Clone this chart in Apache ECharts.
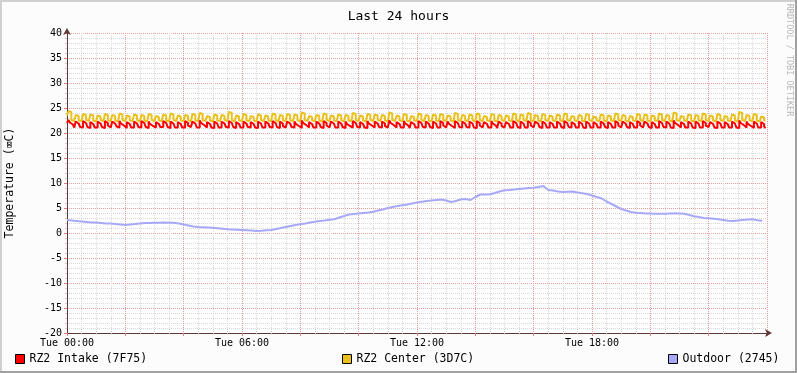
<!DOCTYPE html>
<html><head><meta charset="utf-8">
<script src="https://cdn.jsdelivr.net/npm/echarts@6/dist/echarts.min.js"></script>
<style>html,body{margin:0;padding:0;background:#FCFCFC}#c{width:797px;height:373px}</style>
</head><body><div id="c"></div>
<script>
// time axis in minutes from Tue 00:00
const xTickLabels = ['Tue 00:00','Tue 06:00','Tue 12:00','Tue 18:00'];
const seriesNames = ['RZ2 Intake (7F75)','RZ2 Center (3D7C)','Outdoor (2745)'];
const sampleStepRoom = 3;   // minutes between samples (intake/center)
const sampleStepOut = 10;   // minutes between samples (outdoor)

const intake = [
22.0,22.6,22.1,21.7,21.3, 21.1,22.3,21.9,21.5,21.2,
21.1,22.4,22.0,21.6,21.2, 21.0,22.2,21.8,21.4,21.1,
21.1,22.3,21.9,21.5,21.2, 21.0,22.4,22.0,21.5,21.1,
21.2,22.3,21.9,21.6,21.3, 21.1,22.4,21.9,21.5,21.1,
21.0,22.2,21.8,21.4,21.1, 21.1,22.3,21.9,21.5,21.2,
21.1,22.4,22.0,21.6,21.2, 21.0,22.3,21.8,21.4,21.1,
21.1,22.2,21.8,21.5,21.2, 21.2,22.4,22.0,21.6,21.2,
21.0,22.3,21.9,21.5,21.1, 21.1,22.2,21.8,21.4,21.1,
21.1,22.4,22.0,21.5,21.2, 21.0,22.3,21.9,21.5,21.1,
21.1,22.5,22.0,21.6,21.2, 21.1,22.2,21.8,21.4,21.1,
21.0,22.3,21.9,21.5,21.1, 21.1,22.3,21.9,21.5,21.2,
21.1,22.4,22.0,21.6,21.2, 21.0,22.2,21.8,21.4,21.1,
21.1,22.3,21.9,21.5,21.2, 21.1,22.2,21.8,21.4,21.1,
21.0,22.3,21.9,21.5,21.1, 21.1,22.3,21.9,21.5,21.2,
21.1,22.4,22.0,21.6,21.2, 21.0,22.3,21.9,21.4,21.1,
21.1,22.3,21.9,21.5,21.2, 21.1,22.3,21.8,21.4,21.1,
21.0,22.5,22.0,21.6,21.2, 21.1,22.2,21.8,21.4,21.1,
21.1,22.3,21.9,21.5,21.2, 21.0,22.4,22.0,21.5,21.1,
21.1,22.3,21.9,21.5,21.1, 21.1,22.3,21.9,21.5,21.2,
21.0,22.3,21.8,21.4,21.1, 21.1,22.4,22.0,21.6,21.2,
21.1,22.2,21.8,21.4,21.1, 21.0,22.4,21.9,21.5,21.1,
21.1,22.3,21.9,21.5,21.2, 21.1,22.3,21.9,21.4,21.1,
21.0,22.5,22.0,21.6,21.2, 21.1,22.2,21.8,21.4,21.1,
21.1,22.4,21.9,21.5,21.2, 21.0,22.2,21.8,21.4,21.1,
21.1,22.4,22.0,21.6,21.2, 21.1,22.3,21.9,21.5,21.2,
21.0,22.3,21.9,21.5,21.1, 21.1,22.4,22.0,21.5,21.1,
21.1,22.3,21.8,21.4,21.1, 21.0,22.4,22.0,21.6,21.2,
21.1,22.3,21.9,21.5,21.2, 21.1,22.3,21.9,21.5,21.1,
21.0,22.4,22.0,21.5,21.1, 21.1,22.2,21.8,21.4,21.1,
21.1,22.4,21.9,21.5,21.2, 21.0,22.3,21.9,21.4,21.1,
21.1,22.2,21.8,21.4,21.1, 21.1,22.4,22.0,21.6,21.2,
21.0,22.3,21.9,21.5,21.1, 21.1,22.4,22.0,21.5,21.1,
21.1,22.3,21.9,21.5,21.2, 21.0,22.3,21.9,21.5,21.1,
21.1,22.2,21.8,21.4,21.1, 21.1,22.3,21.9,21.5,21.2,
21.0,22.4,22.0,21.6,21.2, 21.1,22.2,21.8,21.4,21.1,
21.1,22.3,21.9,21.5,21.1, 21.0,22.3,21.9,21.5,21.1,
21.1,22.2,21.8,21.4,21.1, 21.1,22.3,21.9,21.5,21.2,
21.0,22.2,21.8,21.4,21.1, 21.1,22.4,22.0,21.5,21.1,
21.1,22.3,21.9,21.5,21.2, 21.0,22.2,21.8,21.4,21.1,
21.1,22.4,22.0,21.5,21.1, 21.1,22.3,21.9,21.5,21.2,
21.0,22.2,21.8,21.4,21.1, 21.1,22.4,22.0,21.6,21.2,
21.1,22.3,21.9,21.5,21.1, 21.0,22.5,22.0,21.6,21.2,
21.1,22.2,21.8,21.4,21.1, 21.1,22.3,21.9,21.5,21.1,
21.0,22.3,21.9,21.5,21.1, 21.1,22.4,22.0,21.5,21.2,
21.1,22.2,21.8,21.4,21.1, 21.0,22.3,21.9,21.5,21.1,
21.1,22.2,21.8,21.4,21.1, 21.1,22.3,21.9,21.5,21.1,
21.0,22.5,22.0,21.6,21.2, 21.1,22.3,21.8,21.4,21.1,
21.0,22.3,21.9,21.5,21.1, 21.1,22.2,21.8,21.3,21.0
];

const center = [
23.5,24.4,24.2,22.6,22.4, 22.3,23.6,23.4,22.5,22.4,
22.3,23.8,23.6,22.6,22.4, 22.3,23.7,23.5,22.5,22.3,
22.4,23.5,23.3,22.6,22.4, 22.3,23.8,23.6,22.5,22.4,
22.3,23.6,23.4,22.5,22.3, 22.4,23.9,23.7,22.6,22.4,
22.3,23.5,23.3,22.5,22.4, 22.3,23.7,23.5,22.6,22.3,
22.4,23.6,23.4,22.5,22.3, 22.3,23.8,23.6,22.6,22.4,
22.3,23.4,23.2,22.5,22.4, 22.4,23.7,23.5,22.5,22.3,
22.3,23.9,23.7,22.6,22.4, 22.3,23.5,23.3,22.5,22.4,
22.4,23.6,23.4,22.6,22.3, 22.3,23.8,23.6,22.5,22.4,
22.3,24.0,23.8,22.6,22.4, 22.4,23.4,23.2,22.5,22.3,
22.3,23.7,23.5,22.5,22.4, 22.3,23.6,23.4,22.6,22.4,
22.4,24.2,24.0,22.6,22.3, 22.3,23.5,23.3,22.5,22.4,
22.3,23.8,23.6,22.5,22.4, 22.4,23.4,23.2,22.5,22.3,
22.3,23.7,23.5,22.6,22.4, 22.3,23.5,23.3,22.5,22.4,
22.4,23.9,23.7,22.6,22.3, 22.3,23.6,23.4,22.5,22.4,
22.3,23.8,23.6,22.5,22.4, 22.4,23.7,23.5,22.6,22.3,
22.3,24.1,23.9,22.6,22.4, 22.3,23.4,23.2,22.5,22.4,
22.4,23.6,23.4,22.5,22.3, 22.3,23.9,23.7,22.6,22.4,
22.3,23.5,23.3,22.5,22.4, 22.4,23.7,23.5,22.6,22.3,
22.3,23.6,23.4,22.5,22.4, 22.3,24.0,23.8,22.6,22.4,
22.4,23.5,23.3,22.5,22.3, 22.3,23.8,23.6,22.6,22.4,
22.3,23.7,23.5,22.6,22.4, 22.4,23.6,23.4,22.5,22.3,
22.3,24.1,23.9,22.6,22.4, 22.3,23.5,23.3,22.5,22.4,
22.4,23.8,23.6,22.5,22.3, 22.3,23.4,23.2,22.5,22.4,
22.3,23.9,23.7,22.6,22.4, 22.4,23.6,23.4,22.5,22.3,
22.3,23.7,23.5,22.5,22.4, 22.3,23.8,23.6,22.6,22.4,
22.4,23.5,23.3,22.5,22.3, 22.3,24.0,23.8,22.6,22.4,
22.3,23.6,23.4,22.5,22.4, 22.4,23.7,23.5,22.6,22.3,
22.3,23.9,23.7,22.6,22.4, 22.3,23.4,23.2,22.5,22.4,
22.4,23.8,23.6,22.5,22.3, 22.3,23.6,23.4,22.6,22.4,
22.3,23.5,23.3,22.5,22.4, 22.4,23.9,23.7,22.6,22.3,
22.3,23.7,23.5,22.6,22.4, 22.3,24.0,23.8,22.5,22.4,
22.4,23.6,23.4,22.5,22.3, 22.3,23.8,23.6,22.6,22.4,
22.3,23.5,23.3,22.5,22.4, 22.4,23.7,23.5,22.6,22.3,
22.3,23.9,23.7,22.6,22.4, 22.3,23.4,23.2,22.5,22.4,
22.4,23.6,23.4,22.5,22.3, 22.3,23.8,23.6,22.6,22.4,
22.3,23.3,23.1,22.5,22.4, 22.4,23.7,23.5,22.5,22.3,
22.3,23.5,23.3,22.5,22.4, 22.3,23.9,23.7,22.6,22.4,
22.4,23.6,23.4,22.5,22.3, 22.3,23.4,23.2,22.5,22.4,
22.3,23.8,23.6,22.6,22.4, 22.4,23.7,23.5,22.5,22.3,
22.3,23.5,23.3,22.5,22.4, 22.3,23.9,23.7,22.6,22.4,
22.4,23.6,23.4,22.5,22.3, 22.3,24.1,23.9,22.6,22.4,
22.3,23.4,23.2,22.5,22.4, 22.4,23.7,23.5,22.5,22.3,
22.3,23.6,23.4,22.5,22.4, 22.3,23.9,23.7,22.6,22.4,
22.4,23.5,23.3,22.5,22.3, 22.3,23.8,23.6,22.6,22.4,
22.3,23.4,23.2,22.5,22.4, 22.4,23.7,23.5,22.5,22.3,
22.3,24.2,24.0,22.6,22.4, 22.3,23.6,23.4,22.5,22.4,
22.4,23.8,23.6,22.5,22.3, 22.3,23.3,23.1,22.5,22.4
];

const outdoor = [
2.6,2.5,2.4,2.3,2.2,2.1,2.1,2.0,1.9,1.9,
1.8,1.7,1.6,1.7,1.8,1.9,2.0,2.0,2.05,2.05,
2.1,2.05,2.05,1.9,1.7,1.5,1.3,1.2,1.15,1.1,
1.05,0.95,0.85,0.75,0.7,0.65,0.6,0.55,0.5,0.4,
0.45,0.55,0.6,0.8,1.0,1.2,1.4,1.6,1.75,1.9,
2.1,2.25,2.4,2.5,2.65,2.75,3.1,3.4,3.7,3.8,
3.9,4.0,4.1,4.25,4.5,4.7,5.0,5.2,5.4,5.55,
5.7,5.9,6.1,6.25,6.4,6.5,6.6,6.7,6.5,6.2,
6.4,6.7,6.8,6.6,7.2,7.7,7.7,7.75,8.0,8.3,
8.55,8.6,8.7,8.8,8.9,9.0,9.05,9.2,9.4,8.6,
8.5,8.3,8.2,8.25,8.3,8.1,7.95,7.8,7.5,7.2,
6.9,6.3,5.8,5.3,4.8,4.5,4.2,4.05,4.0,3.9,
3.9,3.85,3.85,3.85,3.9,3.95,3.9,3.85,3.6,3.35,
3.2,3.0,2.95,2.85,2.75,2.6,2.45,2.4,2.5,2.6,
2.7,2.75,2.55,2.45
];

const FONT = '"DejaVu Sans Mono", monospace';
const chart = echarts.init(document.getElementById('c'), null, {renderer:'canvas'});
const toPairs = (arr, step) => arr.map((v, i) => [i * step, v]);

const majorGrid = () => ({show: true, lineStyle: {color: '#E89C9C', type: [1, 1], width: 1}});
const minorGrid = () => ({show: true, lineStyle: {color: '#D8D8D8', type: [1, 1], width: 1}});

chart.setOption({
  backgroundColor: '#FCFCFC',
  animation: false,
  title: {text: 'Last 24 hours', left: 'center', top: 5,
    textStyle: {fontFamily: FONT, fontSize: 13, fontWeight: 'normal', color: '#000'}},
  grid: {left: 67, right: 30, top: 33, bottom: 40, show: true, backgroundColor: '#FFFFFF', borderWidth: 0},
  legend: seriesNames.map((n, i) => ({
    data: [n], left: [15, 342, 668][i], top: 353, icon: 'rect', itemWidth: 9, itemHeight: 9,
    itemGap: 0, padding: 0, selectedMode: false,
    itemStyle: {borderColor: '#000', borderWidth: 1},
    textStyle: {fontFamily: FONT, fontSize: 11.5, color: '#000', padding: [0,0,0,0]}
  })),
  xAxis: [{
    type: 'value', min: 0, max: 1440, interval: 360,
    axisLine: {show: true, onZero: false, lineStyle: {color: '#603838', width: 1}, symbol: ['none','arrow'], symbolSize: [6, 7], symbolOffset: [0, 5]},
    axisTick: {show: false},
    splitLine: {show: false},
    axisLabel: {fontFamily: FONT, fontSize: 10, color: '#000', margin: 5,
      formatter: v => xTickLabels[v / 360] || ''}
  }, {
    type: 'value', min: 0, max: 1440, interval: 120, position: 'bottom',
    axisLine: {show: false, onZero: false}, axisLabel: {show: false},
    axisTick: {show: true, length: 3, inside: false, lineStyle: {color: '#E08080'}},
    minorTick: {show: true, splitNumber: 4, length: 2, lineStyle: {color: '#D0D0D0'}},
    splitLine: majorGrid(),
    minorSplitLine: minorGrid()
  }],
  yAxis: {
    type: 'value', min: -20, max: 40, interval: 5,
    axisLine: {show: true, onZero: false, lineStyle: {color: '#603838', width: 1}, symbol: ['none','arrow'], symbolSize: [6, 7], symbolOffset: [0, 5]},
    axisTick: {show: true, length: 3, lineStyle: {color: '#E08080'}},
    minorTick: {show: true, splitNumber: 5, length: 2, lineStyle: {color: '#D0D0D0'}},
    splitLine: majorGrid(),
    minorSplitLine: minorGrid(),
    axisLabel: {fontFamily: FONT, fontSize: 10, color: '#000', margin: 5}
  },
  series: [
    {name: seriesNames[1], type: 'line', xAxisIndex: 0, data: toPairs(center, sampleStepRoom), showSymbol: false,
      step: 'end', color: '#EAC11C', lineStyle: {width: 2, color: '#EAC11C'}, z: 2},
    {name: seriesNames[0], type: 'line', xAxisIndex: 0, data: toPairs(intake, sampleStepRoom), showSymbol: false,
      step: 'end', color: '#FF0000', lineStyle: {width: 2, color: '#FF0000'}, z: 3},
    {name: seriesNames[2], type: 'line', xAxisIndex: 0, data: toPairs(outdoor, sampleStepOut), showSymbol: false,
      color: '#A8A8F8', lineStyle: {width: 2, color: '#A8A8F8'}, z: 4}
  ],
  graphic: [
    {type: 'text', x: 10, y: 183, rotation: Math.PI / 2,
      style: {text: 'Temperature (⌧C)', font: '11.5px ' + FONT, fill: '#000', align: 'center', verticalAlign: 'middle'}},
    {type: 'text', x: 789, y: 60, rotation: -Math.PI / 2,
      style: {text: 'RRDTOOL / TOBI OETIKER', font: '8.5px ' + FONT, fill: '#B8B8B8', align: 'center', verticalAlign: 'middle'}},
    {type: 'rect', shape: {x: 0, y: 0, width: 797, height: 2}, style: {fill: '#D0D0D0'}},
    {type: 'rect', shape: {x: 0, y: 0, width: 2, height: 373}, style: {fill: '#D0D0D0'}},
    {type: 'rect', shape: {x: 0, y: 371, width: 797, height: 2}, style: {fill: '#A0A0A0'}},
    {type: 'rect', shape: {x: 795, y: 0, width: 2, height: 373}, style: {fill: '#A0A0A0'}}
  ]
});
</script></body></html>
